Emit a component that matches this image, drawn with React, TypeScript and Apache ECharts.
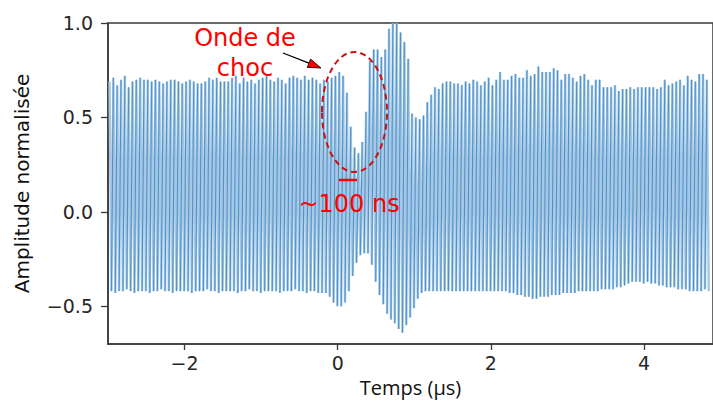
import React, { useEffect, useRef } from "react";
import * as echarts from "echarts";

// sampling of the 20 MHz carrier (one peak + one trough per cycle)
const T0 = -2.98;
const PERIOD = 0.05;

// peak value of each cycle
const peaks = [
  0.69, 0.71, 0.67, 0.70, 0.72, 0.66, 0.69, 0.70, 0.71, 0.70,
  0.70, 0.69, 0.70, 0.69, 0.68, 0.69, 0.70, 0.70, 0.69, 0.68,
  0.69, 0.70, 0.69, 0.68, 0.68, 0.69, 0.71, 0.70, 0.71, 0.69,
  0.69, 0.69, 0.71, 0.72, 0.68, 0.71, 0.69, 0.70, 0.68, 0.70,
  0.71, 0.72, 0.70, 0.69, 0.71, 0.70, 0.68, 0.71, 0.72, 0.71,
  0.70, 0.72, 0.70, 0.71, 0.70,
  0.68, 0.70, 0.69, 0.71, 0.72, 0.74, 0.72, 0.63, 0.45, 0.34,
  0.31, 0.37, 0.53, 0.80, 0.86, 0.86, 0.82, 0.86, 0.97, 1.0,
  1.0, 0.95, 0.90, 0.81, 0.52, 0.50, 0.49, 0.51, 0.58, 0.62,
  0.66, 0.65, 0.68, 0.69,
  0.69, 0.68,
  0.68, 0.67, 0.69, 0.68, 0.70, 0.69, 0.67, 0.69,
  0.71,
  0.67, 0.70, 0.74, 0.70, 0.70, 0.72, 0.73, 0.71, 0.71, 0.75,
  0.72, 0.73, 0.77, 0.74, 0.74, 0.74, 0.76, 0.75, 0.70, 0.73,
  0.73, 0.71, 0.69, 0.72, 0.73, 0.70, 0.67, 0.70, 0.70, 0.66,
  0.66, 0.66, 0.67, 0.64, 0.65, 0.65, 0.66, 0.65, 0.66, 0.66,
  0.66, 0.66, 0.66, 0.65, 0.66, 0.70, 0.67, 0.68, 0.69, 0.70,
  0.67, 0.72, 0.70, 0.69, 0.73, 0.73, 0.70,
];

// trough value of each cycle
const troughs = [
  -0.42, -0.43, -0.42, -0.42, -0.41, -0.42, -0.43, -0.42, -0.42, -0.42,
  -0.43, -0.42, -0.42, -0.41, -0.42, -0.42, -0.43, -0.42, -0.42, -0.42,
  -0.42, -0.43, -0.42, -0.42, -0.42, -0.41, -0.42, -0.42, -0.43, -0.42,
  -0.42, -0.42, -0.42, -0.43, -0.42, -0.42, -0.41, -0.42, -0.42, -0.43,
  -0.42, -0.42, -0.42, -0.42, -0.43, -0.42, -0.42, -0.42, -0.41, -0.42,
  -0.42, -0.43, -0.42, -0.42, -0.43,
  -0.43, -0.43, -0.45, -0.48, -0.50, -0.50, -0.48, -0.42, -0.34, -0.27,
  -0.23, -0.22, -0.22, -0.28, -0.37, -0.44, -0.49, -0.54, -0.57, -0.59,
  -0.62, -0.64, -0.60, -0.56, -0.51, -0.46, -0.43,
  -0.42, -0.42, -0.42, -0.42, -0.42, -0.42, -0.42, -0.42, -0.42, -0.42,
  -0.42, -0.42, -0.42, -0.42, -0.42, -0.42, -0.42,
  -0.42, -0.42, -0.42, -0.42, -0.42, -0.43, -0.43, -0.44, -0.44, -0.45,
  -0.45, -0.46, -0.46, -0.45, -0.45, -0.45, -0.44,
  -0.44, -0.44, -0.43, -0.43, -0.43, -0.43, -0.42, -0.42, -0.42, -0.42,
  -0.42, -0.42, -0.41, -0.41, -0.41, -0.41, -0.40, -0.40, -0.39,
  -0.38, -0.37, -0.37, -0.37, -0.38, -0.37, -0.38, -0.38, -0.39,
  -0.39, -0.40, -0.40, -0.40, -0.41, -0.41, -0.41, -0.42,
  -0.42, -0.42, -0.42, -0.41, -0.42,
];

const xTicks = [-2, 0, 2, 4];
const xTickLabels = ["\u22122", "0", "2", "4"];
const yTicks = [-0.5, 0, 0.5, 1.0];
const yTickLabels = ["\u22120.5", "0.0", "0.5", "1.0"];

const X_MIN = -3;
const X_MAX = 4.9;
const Y_MIN = -0.7;
const Y_MAX = 1.0;

const FONT = "DejaVu Sans";

function lookup(ticks: number[], labels: string[], v: number) {
  const k = ticks.findIndex((t) => Math.abs(t - v) < 1e-9);
  return k >= 0 ? labels[k] : "";
}

export default function App() {
  const ref = useRef<HTMLDivElement>(null);

  useEffect(() => {
    if (!ref.current) return;
    const chart = echarts.init(ref.current, null, { renderer: "svg" });

    const zig: any[] = [];
    const rise: any[] = [];
    peaks.forEach((p, i) => {
      const t = T0 + PERIOD * i;
      zig.push([t, p]);
      zig.push([t + PERIOD / 2, troughs[i]]);
      if (i > 0) {
        rise.push([t - PERIOD / 2, troughs[i - 1]]);
        rise.push([t, p]);
        rise.push([t, "-"]);
      }
    });

    const ux = 321 - 283;
    const uy = 68 - 53;
    const ul = Math.hypot(ux, uy);
    const dx = ux / ul;
    const dy = uy / ul;
    const tipX = 321;
    const tipY = 68;
    const bx = tipX - 13 * dx;
    const by = tipY - 13 * dy;
    const px = -dy * 4.5;
    const py = dx * 4.5;

    chart.setOption({
      animation: false,
      grid: {
        left: 108,
        top: 23,
        right: -1,
        bottom: 59,
        show: true,
        borderColor: "#3a3a3a",
        borderWidth: 1.5,
        backgroundColor: "transparent",
      },
      xAxis: {
        type: "value",
        min: X_MIN,
        max: X_MAX,
        name: "Temps (µs)",
        nameLocation: "middle",
        nameGap: 33,
        nameTextStyle: { fontSize: 20, color: "#111", fontFamily: "Open Sans" },
        axisLine: { show: true, onZero: false, lineStyle: { color: "#3a3a3a", width: 1.5 } },
        axisTick: { show: true, customValues: xTicks, length: 6, lineStyle: { color: "#3a3a3a", width: 1.3 } },
        axisLabel: {
          customValues: xTicks,
          formatter: (v: number) => lookup(xTicks, xTickLabels, v),
          fontSize: 19,
          color: "#262626",
          fontFamily: FONT,
          margin: 9,
        },
        splitLine: { show: false },
      },
      yAxis: {
        type: "value",
        min: Y_MIN,
        max: Y_MAX,
        name: "Amplitude normalisée",
        nameLocation: "middle",
        nameGap: 76,
        nameRotate: 90,
        nameTextStyle: { fontSize: 20, color: "#111", fontFamily: FONT },
        axisLine: { show: true, onZero: false, lineStyle: { color: "#3a3a3a", width: 1.5 } },
        axisTick: { show: true, customValues: yTicks, length: 7, lineStyle: { color: "#3a3a3a", width: 1.3 } },
        axisLabel: {
          customValues: yTicks,
          formatter: (v: number) => lookup(yTicks, yTickLabels, v),
          fontSize: 19,
          color: "#262626",
          fontFamily: FONT,
          margin: 15,
        },
        splitLine: { show: false },
      },
      series: [
        {
          type: "line",
          data: zig,
          symbol: "none",
          showSymbol: false,
          silent: true,
          connectNulls: false,
          lineStyle: { color: "#a6c8e4", width: 2.4 },
          z: 2,
        },
        {
          type: "line",
          data: rise,
          symbol: "none",
          showSymbol: false,
          silent: true,
          connectNulls: false,
          lineStyle: { color: "#4f92ca", width: 1.1 },
          z: 3,
        },
      ],
      graphic: [
        {
          type: "text",
          x: 245,
          y: 23,
          style: {
            text: "Onde de\nchoc",
            fill: "#ff0000",
            font: `24px "${FONT}"`,
            align: "center",
            verticalAlign: "top",
            lineHeight: 30,
          },
          z: 10,
        },
        {
          type: "line",
          shape: { x1: 283, y1: 53, x2: bx, y2: by },
          style: { stroke: "#000", lineWidth: 1.3 },
          z: 10,
        },
        {
          type: "polygon",
          shape: {
            points: [
              [tipX, tipY],
              [bx + px, by + py],
              [bx - px, by - py],
            ],
          },
          style: { fill: "#ff0000", stroke: "#000", lineWidth: 0.8 },
          z: 10,
        },
        {
          type: "ellipse",
          shape: { cx: 354.5, cy: 112, rx: 32.5, ry: 60 },
          style: { fill: "none", stroke: "#cc1010", lineWidth: 2, lineDash: [6, 4] },
          z: 10,
        },
        {
          type: "line",
          shape: { x1: 339, y1: 180, x2: 357, y2: 180 },
          style: { stroke: "#ff0000", lineWidth: 2.5 },
          z: 10,
        },
        {
          type: "text",
          x: 349,
          y: 204,
          style: {
            text: "~100 ns",
            fill: "#ff0000",
            font: `24px "${FONT}"`,
            align: "center",
            verticalAlign: "middle",
          },
          z: 10,
        },
      ],
    });

    return () => chart.dispose();
  }, []);

  return (
    <div
      ref={ref}
      style={{ position: "absolute", left: 0, top: 0, width: 713, height: 403, background: "#fff" }}
    />
  );
}
